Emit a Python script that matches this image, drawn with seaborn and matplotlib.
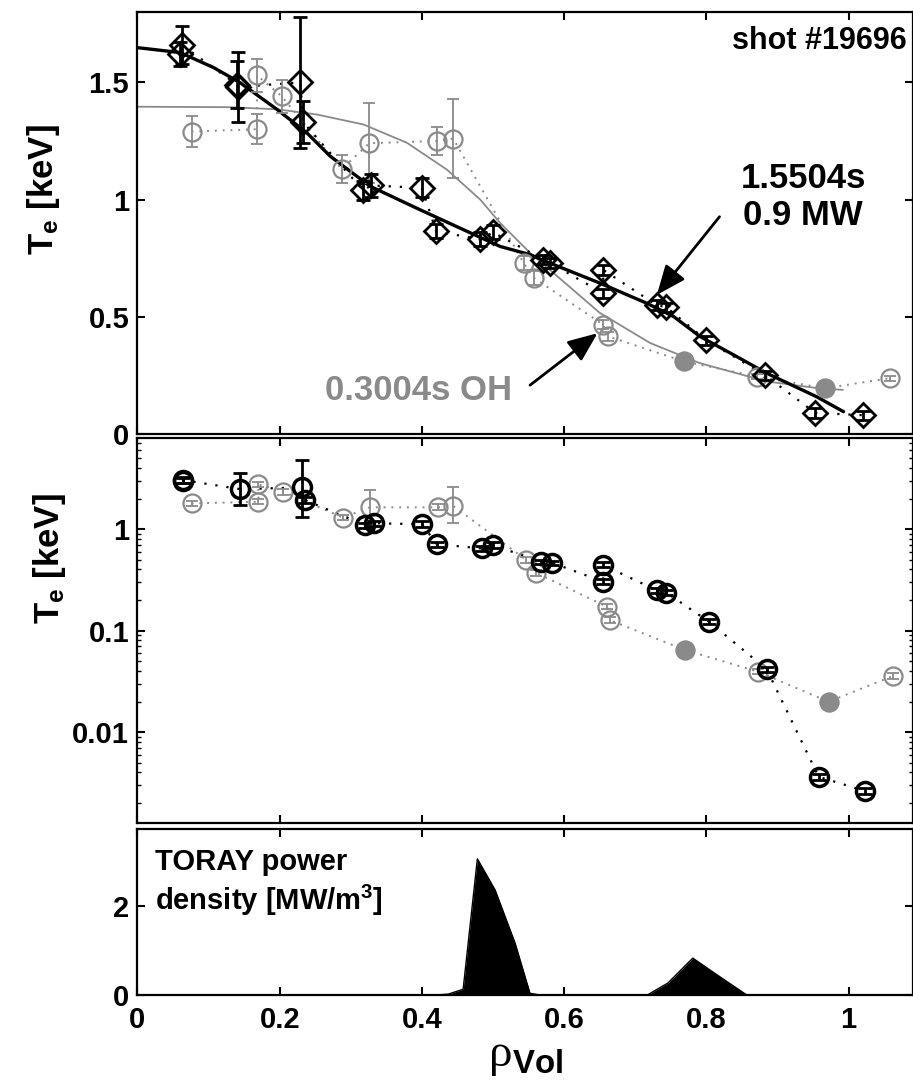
import numpy as np
import matplotlib
matplotlib.use('Agg')
import matplotlib.pyplot as plt
from matplotlib.ticker import FixedLocator, FixedFormatter, LogLocator, NullFormatter
import seaborn as sns

# ---------------- data ----------------
# top panel, 1.5504 s (0.9 MW ECRH), diamonds
rho_hot = [0.062, 0.060, 0.142, 0.140, 0.229, 0.233, 0.317, 0.329, 0.400, 0.420, 0.482,
           0.500, 0.571, 0.580, 0.655, 0.655, 0.730, 0.744, 0.800, 0.883, 0.953, 1.021]
te_hot = [1.66, 1.62, 1.48, 1.49, 1.50, 1.33, 1.04, 1.06, 1.05, 0.865, 0.83,
          0.86, 0.744, 0.73, 0.70, 0.60, 0.55, 0.54, 0.40, 0.25, 0.09, 0.08]
err_hot = [0.08, 0.05, 0.15, 0.10, 0.28, 0.09, 0.04, 0.05, 0.04, 0.03, 0.03,
           0.03, 0.02, 0.02, 0.02, 0.02, 0.02, 0.02, 0.02, 0.02, 0.02, 0.02]

# top panel, 0.3004 s OH, gray circles
rho_oh = [0.076, 0.168, 0.168, 0.203, 0.287, 0.326, 0.421, 0.444, 0.543, 0.557,
          0.655, 0.662, 0.768, 0.871, 0.967, 1.058]
te_oh = [1.29, 1.53, 1.30, 1.44, 1.13, 1.24, 1.25, 1.26, 0.73, 0.667,
         0.466, 0.416, 0.31, 0.245, 0.195, 0.238]
err_oh = [0.065, 0.07, 0.065, 0.07, 0.06, 0.17, 0.06, 0.17, 0.03, 0.03,
          0.02, 0.02, 0.01, 0.01, 0.01, 0.01]

# fitted profiles
fit_hot_rho = [0.0, 0.060, 0.107, 0.144, 0.196, 0.238, 0.271, 0.327, 0.397, 0.458, 0.510,
               0.552, 0.580, 0.650, 0.716, 0.754, 0.791, 0.838, 0.885, 0.955, 0.993]
fit_hot_te = [1.648, 1.627, 1.563, 1.499, 1.385, 1.285, 1.185, 1.057, 0.957, 0.872, 0.800,
              0.765, 0.729, 0.644, 0.558, 0.501, 0.416, 0.338, 0.259, 0.159, 0.095]
fit_oh_rho = [0.0, 0.130, 0.196, 0.252, 0.318, 0.379, 0.435, 0.482, 0.510, 0.552,
              0.580, 0.650, 0.721, 0.791, 0.885, 0.955, 0.992]
fit_oh_te = [1.396, 1.394, 1.385, 1.363, 1.320, 1.242, 1.128, 1.000, 0.900, 0.773,
             0.700, 0.517, 0.388, 0.302, 0.224, 0.196, 0.188]

# middle panel (log scale)
rho_hot_log = [0.064, 0.064, 0.144, 0.231, 0.236, 0.320, 0.332, 0.400, 0.421, 0.484, 0.500,
               0.568, 0.583, 0.655, 0.655, 0.730, 0.744, 0.804, 0.885, 0.958, 1.023]
te_hot_log = [3.04, 3.00, 2.48, 2.57, 1.93, 1.09, 1.14, 1.12, 0.71, 0.645, 0.695,
              0.476, 0.466, 0.442, 0.303, 0.25, 0.236, 0.122, 0.0415, 0.00363, 0.00263]
te_hot_log_lo = [2.85, 2.82, 1.72, 1.32, 1.81, 1.02, 1.07, 1.05, 0.67, 0.61, 0.65,
                 0.45, 0.44, 0.42, 0.285, 0.235, 0.222, 0.115, 0.039, 0.0034, 0.00247]
te_hot_log_hi = [3.24, 3.19, 3.56, 4.80, 2.05, 1.16, 1.21, 1.19, 0.75, 0.68, 0.74,
                 0.50, 0.49, 0.47, 0.322, 0.265, 0.250, 0.129, 0.044, 0.00386, 0.0028]

rho_oh_log = [0.076, 0.170, 0.170, 0.205, 0.289, 0.327, 0.423, 0.444, 0.547, 0.561,
              0.660, 0.664, 0.770, 0.873, 0.972, 1.062]
te_oh_log = [1.79, 2.76, 1.86, 2.33, 1.30, 1.64, 1.64, 1.69, 0.495, 0.37,
             0.172, 0.127, 0.0644, 0.0393, 0.0199, 0.0356]
te_oh_log_lo = [1.68, 2.60, 1.75, 2.19, 1.22, 1.15, 1.54, 1.16, 0.465, 0.348,
                0.162, 0.119, 0.0605, 0.037, 0.0187, 0.0335]
te_oh_log_hi = [1.91, 2.93, 1.98, 2.48, 1.38, 2.42, 1.75, 2.57, 0.526, 0.393,
                0.183, 0.135, 0.0685, 0.0418, 0.0211, 0.0378]

# bottom panel, TORAY power density
rho_toray = [0.0, 0.420, 0.437, 0.458, 0.478, 0.503, 0.531, 0.552, 0.566, 0.600,
             0.717, 0.746, 0.781, 0.809, 0.857, 1.09]
p_toray = [0.0, 0.0, 0.02, 0.13, 3.06, 2.36, 1.17, 0.04, 0.0, 0.0,
           0.0, 0.27, 0.83, 0.52, 0.0, 0.0]

x_ticks = [0, 0.2, 0.4, 0.6, 0.8, 1.0]
x_ticklabels = ['0', '0.2', '0.4', '0.6', '0.8', '1']
lin_ticks = [0, 0.5, 1.0, 1.5]
lin_ticklabels = ['0', '0.5', '1', '1.5']
log_ticks = [0.01, 0.1, 1.0]
log_ticklabels = ['0.01', '0.1', '1']
p_ticks = [0, 2]
p_ticklabels = ['0', '2']

# ---------------- style ----------------
sns.set_theme(style='ticks')
plt.rcParams['font.family'] = ['Liberation Sans', 'DejaVu Sans']
plt.rcParams['font.weight'] = 'bold'
plt.rcParams['text.color'] = 'black'
plt.rcParams['axes.labelcolor'] = 'black'
plt.rcParams['xtick.color'] = 'black'
plt.rcParams['ytick.color'] = 'black'
plt.rcParams['axes.edgecolor'] = 'black'
plt.rcParams['mathtext.fontset'] = 'custom'
plt.rcParams['mathtext.rm'] = 'Liberation Serif:weight=normal'
plt.rcParams['mathtext.bf'] = 'Liberation Sans:weight=bold'
plt.rcParams['mathtext.it'] = 'Liberation Sans:style=italic'

GRAY = '#8a8a8a'
FS_TICK = 21

fig = plt.figure(figsize=(9.13, 10.92), dpi=100)
ax1 = fig.add_axes([0.1506, 0.6026, 0.8494, 0.3864])
ax2 = fig.add_axes([0.1506, 0.2463, 0.8494, 0.3526])
ax3 = fig.add_axes([0.1506, 0.0888, 0.8494, 0.1520])
XMAX = 1.0907

for ax in (ax1, ax2, ax3):
    ax.set_xlim(0, XMAX)
    for s in ax.spines.values():
        s.set_linewidth(1.6)
        s.set_color('black')
    ax.tick_params(which='major', direction='in', length=6, width=1.5,
                   top=True, right=True, labelsize=FS_TICK, pad=6,
                   color='black', labelcolor='black')
    ax.xaxis.set_major_locator(FixedLocator(x_ticks))
    ax.xaxis.set_major_formatter(FixedFormatter(x_ticklabels))

MS = 13

# ---- top panel ----
ax1.set_ylim(0, 1.8)
ax1.yaxis.set_major_locator(FixedLocator(lin_ticks))
ax1.yaxis.set_major_formatter(FixedFormatter(lin_ticklabels))
ax1.tick_params(labelbottom=False)

sns.lineplot(x=fit_oh_rho, y=fit_oh_te, ax=ax1, color=GRAY, lw=1.3, sort=False, estimator=None)
sns.lineplot(x=rho_oh, y=te_oh, ax=ax1, color=GRAY, lw=1.4, ls=(0, (1, 3)), estimator=None)
sns.lineplot(x=rho_hot, y=te_hot, ax=ax1, color='black', lw=1.6, ls=(0, (1, 4)), estimator=None)
sns.lineplot(x=fit_hot_rho, y=fit_hot_te, ax=ax1, color='black', lw=2.4, sort=False, estimator=None)

ax1.errorbar(rho_oh, te_oh, yerr=err_oh, fmt='none', ecolor=GRAY, elinewidth=1.3, capsize=4, capthick=1.3)
ax1.plot(rho_oh, te_oh, 'o', ms=MS, mfc='none', mec=GRAY, mew=1.6, ls='none')
filled = [i for i, r in enumerate(rho_oh) if r in (0.768, 0.967)]
ax1.plot([rho_oh[i] for i in filled], [te_oh[i] for i in filled], 'o', ms=MS,
         mfc=GRAY, mec=GRAY, ls='none')
ax1.errorbar(rho_hot, te_hot, yerr=err_hot, fmt='none', ecolor='black', elinewidth=2, capsize=5, capthick=2)
ax1.plot(rho_hot, te_hot, 'D', ms=12, mfc='none', mec='black', mew=2, ls='none')

ax1.text(1.082, 1.675, 'shot #19696', ha='right', va='center', fontsize=22, fontweight='bold')
ax1.text(0.936, 1.01, '1.5504s\n0.9 MW', ha='center', va='center', fontsize=25,
         fontweight='bold', linespacing=1.15)
ax1.annotate('', xy=(0.728, 0.584), xytext=(0.821, 0.936),
             arrowprops=dict(arrowstyle='-|>,head_length=0.6,head_width=0.25', lw=2,
                             color='black', mutation_scale=30))
ax1.text(0.264, 0.184, '0.3004s OH', ha='left', va='center', fontsize=25,
         fontweight='bold', color=GRAY)
ax1.annotate('', xy=(0.650, 0.437), xytext=(0.549, 0.201),
             arrowprops=dict(arrowstyle='-|>,head_length=0.6,head_width=0.25', lw=2,
                             color='black', mutation_scale=30))
ax1.set_ylabel(r'$\mathbf{T_e}$ [keV]', fontsize=25, fontweight='bold')
ax1.yaxis.set_label_coords(-0.097, 0.578)
ax1.set_xlabel('')

# ---- middle panel ----
ax2.set_yscale('log')
ax2.set_ylim(0.00127, 7.9)
ax2.yaxis.set_major_locator(FixedLocator(log_ticks))
ax2.yaxis.set_major_formatter(FixedFormatter(log_ticklabels))
ax2.yaxis.set_minor_locator(LogLocator(base=10, subs=np.arange(2, 10)))
ax2.yaxis.set_minor_formatter(NullFormatter())
ax2.tick_params(which='minor', axis='y', direction='in', length=3, width=1, left=True, right=True)
ax2.tick_params(which='minor', axis='x', bottom=False, top=False)
ax2.tick_params(labelbottom=False)

sns.lineplot(x=rho_oh_log, y=te_oh_log, ax=ax2, color=GRAY, lw=1.4, ls=(0, (1, 3)), estimator=None)
sns.lineplot(x=rho_hot_log, y=te_hot_log, ax=ax2, color='black', lw=1.6, ls=(0, (1, 4)), estimator=None)

oh_lo = np.array(te_oh_log) - np.array(te_oh_log_lo)
oh_hi = np.array(te_oh_log_hi) - np.array(te_oh_log)
ax2.errorbar(rho_oh_log, te_oh_log, yerr=[oh_lo, oh_hi], fmt='none', ecolor=GRAY,
             elinewidth=1.3, capsize=4, capthick=1.3)
ax2.plot(rho_oh_log, te_oh_log, 'o', ms=MS, mfc='none', mec=GRAY, mew=1.6, ls='none')
filled2 = [i for i, r in enumerate(rho_oh_log) if r in (0.770, 0.972)]
ax2.plot([rho_oh_log[i] for i in filled2], [te_oh_log[i] for i in filled2], 'o', ms=MS,
         mfc=GRAY, mec=GRAY, ls='none')
hot_lo = np.array(te_hot_log) - np.array(te_hot_log_lo)
hot_hi = np.array(te_hot_log_hi) - np.array(te_hot_log)
ax2.errorbar(rho_hot_log, te_hot_log, yerr=[hot_lo, hot_hi], fmt='none', ecolor='black',
             elinewidth=2, capsize=5, capthick=2)
ax2.plot(rho_hot_log, te_hot_log, 'o', ms=MS, mfc='none', mec='black', mew=2.5, ls='none')
ax2.set_ylabel(r'$\mathbf{T_e}$ [keV]', fontsize=25, fontweight='bold')
ax2.yaxis.set_label_coords(-0.089, 0.686)
ax2.set_xlabel('')

# ---- bottom panel ----
ax3.set_ylim(0, 3.73)
ax3.yaxis.set_major_locator(FixedLocator(p_ticks))
ax3.yaxis.set_major_formatter(FixedFormatter(p_ticklabels))
ax3.fill_between(rho_toray, 0, p_toray, color='black', lw=0)
sns.lineplot(x=rho_toray, y=p_toray, ax=ax3, color='black', lw=1.0, sort=False, estimator=None)
ax3.tick_params(axis='x', pad=8)
ax3.text(0.025, 3.3, 'TORAY power\ndensity [MW/m$^\\mathbf{3}$]', ha='left', va='top',
         fontsize=21, fontweight='bold', linespacing=1.25)
ax3.set_xlabel(r'$\mathrm{\rho}_{\mathbf{Vol}}$', fontsize=34, labelpad=0)
ax3.set_ylabel('')
for ax in (ax1, ax2, ax3):
    for lab in ax.get_xticklabels() + ax.get_yticklabels():
        lab.set_fontweight('bold')
        lab.set_color('black')

fig.savefig('out.png', dpi=100)
